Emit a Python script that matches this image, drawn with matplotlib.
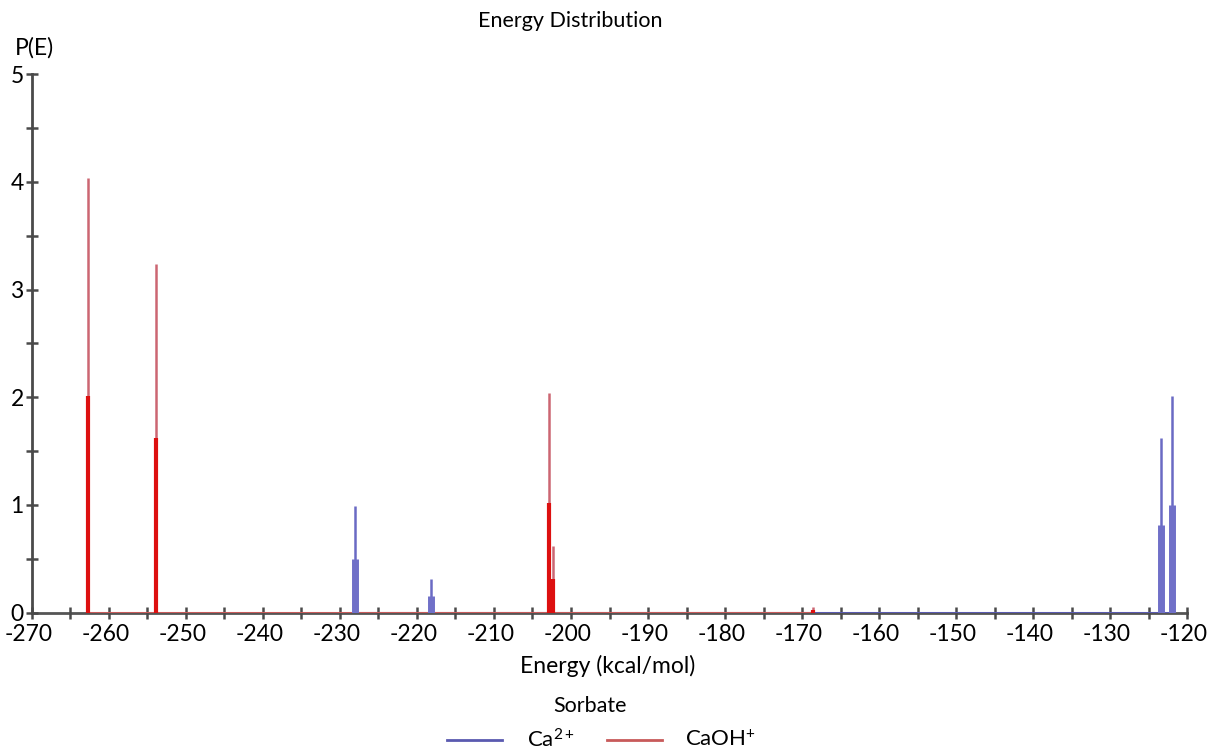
import matplotlib
matplotlib.use("Agg")
import matplotlib.pyplot as plt
import matplotlib.transforms as mtransforms
from matplotlib.lines import Line2D

plt.rcParams['font.family'] = ['Lato', 'DejaVu Sans']
plt.rcParams['mathtext.fontset'] = 'custom'
plt.rcParams['mathtext.rm'] = 'Lato'
plt.rcParams['mathtext.it'] = 'Lato:italic'
plt.rcParams['mathtext.bf'] = 'Lato:bold'

# Data
ca_energy = [-228.0, -218.2, -123.4, -122.0]
ca_peak = [0.99, 0.31, 1.62, 2.01]
ca_core = [0.50, 0.15, 0.81, 1.00]
ca_range = [-228.2, -121.8]

caoh_energy = [-262.7, -253.9, -202.9, -202.4, -168.6]
caoh_peak = [4.04, 3.24, 2.04, 0.62, 0.05]
caoh_core = [2.01, 1.62, 1.02, 0.31, 0.02]
caoh_range = [-262.7, -168.8]

x_major = list(range(-270, -119, 10))
x_minor = list(range(-265, -119, 10))
y_major = [0, 1, 2, 3, 4, 5]
y_minor = [0.5, 1.5, 2.5, 3.5, 4.5]

fig = plt.figure(figsize=(12.19, 7.52), dpi=100)
ax = fig.add_axes([0.02625, 0.1855, 0.9475, 0.7157])
ax.set_xlim(-270, -120)
ax.set_ylim(0, 5)
for s in ax.spines.values():
    s.set_visible(False)

axis_col = '#4a4a4a'
ax.plot([-270, -120], [0, 0], color='#555555', lw=2, zorder=1, clip_on=False)
ax.plot([-270, -270], [0, 5], color=axis_col, lw=2, zorder=1, clip_on=False)

ax.hlines(0, ca_range[0], ca_range[1], color='#5a5ab0', lw=2.2, zorder=2)
ax.hlines(0, caoh_range[0], caoh_range[1], color='#c85a5a', lw=2.2, zorder=3)

ax.vlines(ca_energy, 0, ca_peak, color='#6a6ac4', lw=1.8, zorder=4)
ax.vlines(ca_energy, 0, ca_core, color='#7070c8', lw=5, zorder=4)
ax.vlines(caoh_energy, 0, caoh_peak, color='#cc6672', lw=1.8, zorder=5)
ax.vlines(caoh_energy, 0, caoh_core, color='#dd1010', lw=3, zorder=5)

ax.set_xticks(x_major)
ax.set_xticks(x_minor, minor=True)
ax.set_yticks(y_major)
ax.set_yticks(y_minor, minor=True)
ax.tick_params(axis='both', which='both', direction='inout', length=8, width=1.8,
               color=axis_col, labelsize=16.5, labelcolor='black', pad=2)
ax.tick_params(axis='x', pad=4)
ax.set_xticklabels([str(v) for v in x_major])
ax.set_yticklabels([str(v) for v in y_major])
offset = mtransforms.ScaledTranslation(-3/100, 0, fig.dpi_scale_trans)
for lab in ax.get_xticklabels():
    lab.set_transform(lab.get_transform() + offset)

fig.text(0.4675, 0.972, 'Energy Distribution', ha='center', va='center', fontsize=15.5)
fig.text(0.028, 0.936, 'P(E)', ha='center', va='center', fontsize=16.5)
fig.text(0.4985, 0.115, 'Energy (kcal/mol)', ha='center', va='center', fontsize=16.5)
fig.text(0.484, 0.061, 'Sorbate', ha='center', va='center', fontsize=15.5)

ly = 1 - 740/752
fig.add_artist(Line2D([447/1219, 502/1219], [ly, ly], color='#5a5ab0', lw=2))
fig.text(527/1219, ly, r'Ca$^{\mathrm{2+}}$', ha='left', va='center', fontsize=16)
fig.add_artist(Line2D([607/1219, 662/1219], [ly, ly], color='#c85a5a', lw=2))
fig.text(685/1219, ly, r'CaOH$^{\mathrm{+}}$', ha='left', va='center', fontsize=16)

fig.savefig('out.png', dpi=100)
